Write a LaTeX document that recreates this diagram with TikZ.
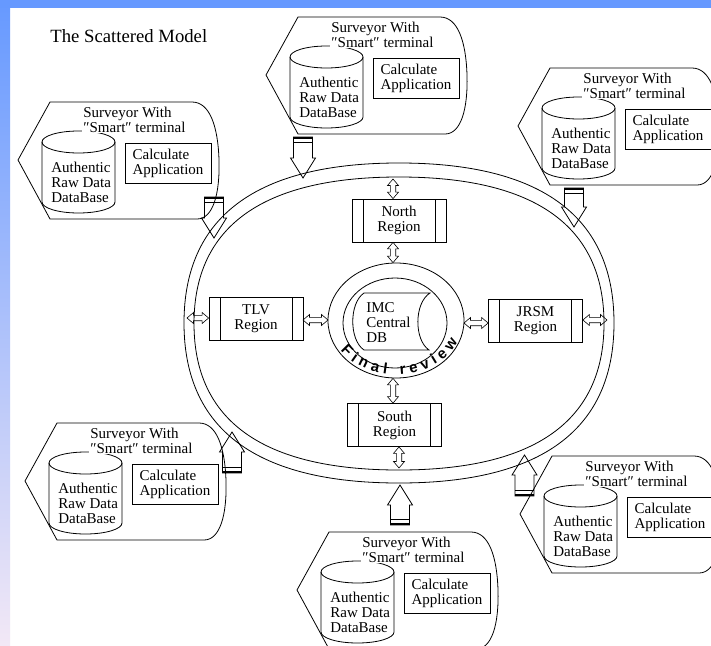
\documentclass[tikz,border=0pt]{standalone}
\usepackage{fontspec}
\setmainfont{Liberation Serif}
\newfontfamily\finalfont{Liberation Sans}
\usetikzlibrary{calc,decorations.text,shapes.geometric}
\definecolor{bandblue}{RGB}{102,153,255}
\definecolor{bandpale}{RGB}{242,232,246}
\newcommand\frfont{\finalfont\bfseries\fontsize{15}{15}\selectfont}
% big hollow arrow from base #1 to tip #2
\newcommand\BigArrow[2]{%
 \draw[bigarrow] ($(#1)!9.5pt!90:(#2)$) -- ($(#2)!20pt!(#1)!9.5pt!-90:(#1)$) -- ($(#2)!20pt!(#1)!12.5pt!-90:(#1)$) -- (#2) -- ($(#2)!20pt!(#1)!12.5pt!90:(#1)$) -- ($(#2)!20pt!(#1)!9.5pt!90:(#1)$) -- ($(#1)!9.5pt!-90:(#2)$) -- cycle;
 \draw[line width=2.4pt] ($(#1)!1.2pt!(#2)!9.5pt!90:(#2)$) -- ($(#1)!1.2pt!(#2)!9.5pt!-90:(#2)$);
 \draw[line width=0.8pt] ($(#1)!5.5pt!(#2)!9.5pt!90:(#2)$) -- ($(#1)!5.5pt!(#2)!9.5pt!-90:(#2)$);
}
% small hollow double arrow between #1 and #2
\newcommand\DblArrow[2]{%
 \draw[smallarrow] (#1) -- ($(#1)!6.5pt!(#2)!5.5pt!90:(#2)$) -- ($(#1)!6.5pt!(#2)!2.7pt!90:(#2)$) -- ($(#2)!6.5pt!(#1)!2.7pt!-90:(#1)$) -- ($(#2)!6.5pt!(#1)!5.5pt!-90:(#1)$) -- (#2) -- ($(#2)!6.5pt!(#1)!5.5pt!90:(#1)$) -- ($(#2)!6.5pt!(#1)!2.7pt!90:(#1)$) -- ($(#1)!6.5pt!(#2)!2.7pt!-90:(#2)$) -- ($(#1)!6.5pt!(#2)!5.5pt!-90:(#2)$) -- cycle;
}
\tikzset{
 txt/.style={font=\fontsize{15}{15}\selectfont},
 regbox/.style={draw, txt, align=center, minimum width=94pt, minimum height=43pt,
   path picture={\draw[line width=0.8pt] ([xshift=11pt]path picture bounding box.north west) -- ([xshift=11pt]path picture bounding box.south west) ([xshift=-11pt]path picture bounding box.north east) -- ([xshift=-11pt]path picture bounding box.south east);}},
 calcbox/.style={draw, txt, align=left, minimum width=86pt, minimum height=40pt},
 bigarrow/.style={draw, line width=0.8pt},
 smallarrow/.style={draw, line width=0.6pt},
 surveyor/.pic={
  \draw (0,0) -- (142,0) .. controls (160,0) and (168,25) .. (169,58) .. controls (170,92) and (163,117) .. (147,117) -- (0,117) -- (-32,58) -- cycle;
  \draw (-8,40) -- (-8,100) arc[start angle=180, end angle=0, x radius=36.5, y radius=11] -- (65,40);
  \draw (28.5,40) ellipse [x radius=36.5, y radius=11];
  \node[txt, anchor=north west, align=left, fill=white, inner sep=1pt] (-title) at (32,3.5) {Surveyor With\\″Smart″ terminal};
  \node[txt, anchor=north west, align=left, inner sep=1pt] (-db) at (0,58.5) {Authentic\\Raw Data\\DataBase};
  \node[calcbox] (-calc) at (118,61) {Calculate\\Application};
 }
}
\begin{document}
\begin{tikzpicture}[x=1pt,y=-1pt,line width=0.8pt]
\clip (0,0) rectangle (711,645);
\fill[white] (0,0) rectangle (711,645);
\shade[top color=bandblue, bottom color=bandpale] (0,0) rectangle (10,645);
\fill[bandblue] (0,0) rectangle (711,7.5);

\node[anchor=base west, font=\fontsize{18.7}{18.7}\selectfont, inner sep=0pt] (title) at (50,42.7) {The Scattered Model};

% double ring
\draw (614,323) .. controls (614,429.2) and (541.8,483) .. (399,483) .. controls (256.2,483) and (184,429.2) .. (184,323) .. controls (184,216.8) and (256.2,163) .. (399,163) .. controls (541.8,163) and (614,216.8) .. (614,323) -- cycle;
\draw (604,323.5) .. controls (604,420.8) and (535.1,470) .. (399,470) .. controls (262.9,470) and (194,420.8) .. (194,323.5) .. controls (194,226.2) and (262.9,177) .. (399,177) .. controls (535.1,177) and (604,226.2) .. (604,323.5) -- cycle;

% regions
\node[regbox] (north) at (399,220.5) {North\\Region};
\node[regbox] (tlv) at (256,319) {TLV\\Region};
\node[regbox] (jrsm) at (535.5,320.5) {JRSM\\Region};
\node[regbox] (south) at (394.5,425) {South\\Region};

% central
\node[draw, ellipse, minimum width=136pt, minimum height=115pt, inner sep=0pt] (review) at (396,320.5) {};
\node[draw, ellipse, minimum width=104pt, minimum height=90pt, inner sep=0pt] (innerc) at (395,323) {};
\draw (364,293) -- (430,293) .. controls (414,303) and (414,340) .. (429,350) -- (364,350) .. controls (349,340) and (349,303) .. (364,293) -- cycle;
\node[txt, anchor=north west, align=left, inner sep=1pt] (imc) at (365,300.7) {IMC\\Central\\DB};
\path[decorate, decoration={text along path, text={|\frfont|Final review}, text align={fit to path}}]
  ([shift={(214:67pt and 54pt)}]review.center) arc[start angle=214, end angle=337, x radius=67pt, y radius=54pt];

% small arrows
\coordinate (rtop) at (393,179);
\coordinate (nN) at (rtop |- north.north);
\coordinate (nS) at (rtop |- north.south);
\coordinate (cN) at (rtop |- review.north);
\coordinate (cS) at (rtop |- review.south);
\coordinate (sN) at (rtop |- south.north);
\coordinate (rbot) at (399,468);
\coordinate (sS) at (rbot |- south.south);
\coordinate (rleft) at (187,318);
\coordinate (tW) at (tlv.west |- rleft);
\coordinate (tE) at (303,320);
\coordinate (cW) at (328,320);
\coordinate (cE) at (464,323);
\coordinate (jW) at (jrsm.west |- cE);
\coordinate (rright) at (607,320);
\coordinate (jE) at (jrsm.east |- rright);
\DblArrow{rtop}{nN}
\DblArrow{nS}{cN}
\DblArrow{cS}{sN}
\DblArrow{sS}{rbot}
\DblArrow{rleft}{tW}
\DblArrow{tE}{cW}
\DblArrow{cE}{jW}
\DblArrow{jE}{rright}

% surveyors
\pic (tl) at (50,102) {surveyor};
\pic (t) at (298,17) {surveyor};
\pic (tr) at (550,68) {surveyor};
\pic (bl) at (57,423) {surveyor};
\pic (b) at (329,532) {surveyor};
\pic (br) at (552,456) {surveyor};

% big arrows
\coordinate (tlA) at (214,197); \coordinate (tlB) at (214,238);
\coordinate (tA) at (303,137); \coordinate (tB) at (303,178);
\coordinate (trA) at (574,188); \coordinate (trB) at (574,227);
\coordinate (blA) at (232,473); \coordinate (blB) at (232,432);
\coordinate (bA) at (400,525); \coordinate (bB) at (400,485);
\coordinate (brA) at (524.5,496); \coordinate (brB) at (524.5,455);
\BigArrow{tlA}{tlB}
\BigArrow{tA}{tB}
\BigArrow{trA}{trB}
\BigArrow{blA}{blB}
\BigArrow{bA}{bB}
\BigArrow{brA}{brB}
\end{tikzpicture}
\end{document}
